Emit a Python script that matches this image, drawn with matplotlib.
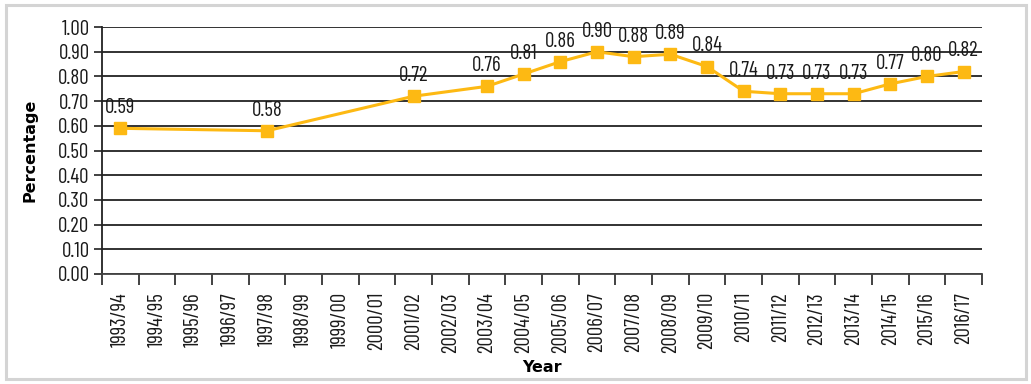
import matplotlib
matplotlib.use("Agg")
import matplotlib.pyplot as plt
from matplotlib.patches import Rectangle

years = ["1993/94", "1994/95", "1995/96", "1996/97", "1997/98", "1998/99",
         "1999/00", "2000/01", "2001/02", "2002/03", "2003/04", "2004/05",
         "2005/06", "2006/07", "2007/08", "2008/09", "2009/10", "2010/11",
         "2011/12", "2012/13", "2013/14", "2014/15", "2015/16", "2016/17"]
values = [0.59, None, None, None, 0.58, None,
          None, None, 0.72, None, 0.76, 0.81,
          0.86, 0.90, 0.88, 0.89, 0.84, 0.74,
          0.73, 0.73, 0.73, 0.77, 0.80, 0.82]
y_ticks = [0.0, 0.1, 0.2, 0.3, 0.4, 0.5, 0.6, 0.7, 0.8, 0.9, 1.0]

narrow = ["Barlow Condensed", "DejaVu Sans"]
heading = ["DejaVu Sans"]
gold = "#FDB913"

fig = plt.figure(figsize=(10.31, 3.84), dpi=100)
fig.patches.append(Rectangle((0.006, 0.012), 0.989, 0.976, transform=fig.transFigure,
                             fill=False, edgecolor="#d4d4d4", linewidth=2.2))
ax = fig.add_axes([0.099, 0.2865, 0.8535, 0.643])

xs = [i for i, v in enumerate(values) if v is not None]
ys = [v for v in values if v is not None]
ax.plot(xs, ys, color=gold, linewidth=2.2, marker="s", markersize=9,
        markerfacecolor=gold, markeredgecolor=gold, zorder=3)
for x, y in zip(xs, ys):
    ax.annotate(f"{y:.2f}", (x, y), xytext=(0, 8), textcoords="offset points",
                ha="center", va="bottom", fontsize=15, family=narrow, color="#1a1a1a")

ax.set_xlim(-0.5, len(years) - 0.5)
ax.set_ylim(0, 1.0)
ax.set_yticks(y_ticks)
ax.set_yticklabels([f"{t:.2f}" for t in y_ticks], family=narrow, fontsize=15, color="#1a1a1a")
ax.set_xticks(range(len(years)))
ax.set_xticklabels(years, rotation=90, family=narrow, fontsize=15, color="#1a1a1a")
ax.set_xticks([i - 0.5 for i in range(len(years) + 1)], minor=True)
ax.tick_params(axis="x", which="major", length=0, pad=13)
ax.tick_params(axis="x", which="minor", length=8, width=1.3, color="#333333")
ax.tick_params(axis="y", length=6, width=1.3, color="#333333", pad=3)

ax.grid(axis="y", color="#222222", linewidth=1.3)
ax.set_axisbelow(True)
for s in ["top", "right"]:
    ax.spines[s].set_visible(False)
ax.spines["left"].set_color("#222222")
ax.spines["left"].set_linewidth(1.3)
ax.spines["bottom"].set_color("#444444")
ax.spines["bottom"].set_linewidth(1.3)

ax.set_ylabel("Percentage", fontsize=11.5, fontweight="bold", family=heading, labelpad=14)
ax.set_xlabel("Year", fontsize=11.5, fontweight="bold", family=heading, labelpad=5)

fig.savefig("out.png", dpi=100)
